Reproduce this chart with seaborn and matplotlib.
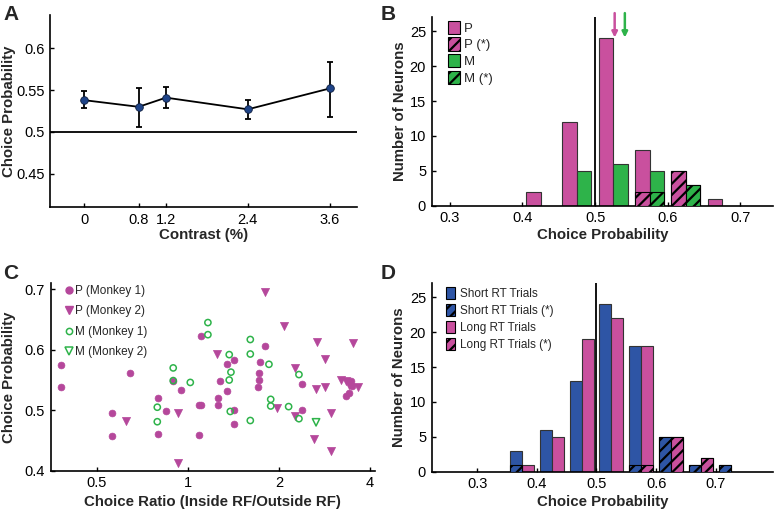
import numpy as np
import matplotlib
matplotlib.use('Agg')
import matplotlib.pyplot as plt
import seaborn as sns
from matplotlib.patches import Patch
from matplotlib.lines import Line2D

sns.set_theme(style='ticks')
plt.rcParams['font.family'] = ['Liberation Sans', 'DejaVu Sans']
plt.rcParams['xtick.direction'] = 'in'
plt.rcParams['ytick.direction'] = 'in'
plt.rcParams['hatch.linewidth'] = 1.6

# ---- data ----
# A: choice probability vs contrast
contrast = [0, 0.8, 1.2, 2.4, 3.6]
cp_mean = [0.538, 0.530, 0.541, 0.527, 0.552]
cp_low = [0.528, 0.506, 0.529, 0.515, 0.518]
cp_high = [0.549, 0.553, 0.554, 0.538, 0.584]

# B: CP histogram, P vs M cells
bins_b = [0.425, 0.475, 0.525, 0.575, 0.625, 0.675]
p_counts = [2, 12, 24, 8, 5, 1]
p_sig = [0, 0, 0, 2, 5, 0]
m_counts = [0, 5, 6, 5, 3, 0]
m_sig = [0, 0, 0, 2, 3, 0]
p_mean = 0.527
m_mean = 0.541

# C: choice ratio vs choice probability
p1_x = [0.381, 0.381, 0.562, 0.562, 0.643, 0.796, 0.796, 0.848, 0.892, 0.946,
        1.087, 1.107, 1.087, 1.104, 1.253, 1.253, 1.279, 1.346, 1.346, 1.419,
        1.419, 1.415, 1.703, 1.716, 1.716, 1.725, 1.792, 2.381, 2.381, 3.336,
        3.396, 3.465, 3.483]
p1_y = [0.575, 0.539, 0.496, 0.457, 0.562, 0.520, 0.461, 0.498, 0.549, 0.534,
        0.508, 0.508, 0.459, 0.622, 0.520, 0.508, 0.548, 0.531, 0.576, 0.583,
        0.500, 0.477, 0.539, 0.550, 0.561, 0.579, 0.607, 0.543, 0.500, 0.524,
        0.528, 0.548, 0.540]
p2_x = [0.622, 0.927, 0.927, 1.247, 1.792, 2.071, 1.968, 2.263, 2.263, 2.601,
        2.641, 2.675, 2.829, 2.829, 2.961, 2.961, 3.211, 3.319, 3.396, 3.509,
        3.646]
p2_y = [0.483, 0.495, 0.412, 0.593, 0.695, 0.640, 0.503, 0.570, 0.490, 0.453,
        0.535, 0.613, 0.585, 0.539, 0.495, 0.433, 0.550, 0.549, 0.541, 0.612,
        0.538]
m1_x = [0.792, 0.792, 0.894, 0.894, 1.018, 1.164, 1.164, 1.369, 1.387, 1.369,
        1.380, 1.607, 1.607, 1.607, 1.852, 1.877, 1.877, 2.151, 2.327, 2.327]
m1_y = [0.505, 0.481, 0.570, 0.549, 0.546, 0.645, 0.625, 0.592, 0.563, 0.550,
        0.498, 0.617, 0.593, 0.483, 0.576, 0.518, 0.507, 0.506, 0.559, 0.486]
m2_x = [2.65]
m2_y = [0.480]

# D: CP histogram, short vs long RT trials
bins_d = [0.375, 0.425, 0.475, 0.525, 0.575, 0.625, 0.675, 0.725]
short_counts = [3, 6, 13, 24, 18, 5, 1, 1]
short_sig = [1, 0, 0, 0, 1, 5, 1, 1]
long_counts = [1, 5, 19, 22, 18, 5, 2, 0]
long_sig = [0, 0, 0, 0, 1, 5, 2, 0]

# colours
magenta = '#c9509e'
green = '#2eb34a'
blue = '#2e55a5'
magenta_c = '#b5479b'
edge = '#333333'

fig = plt.figure(figsize=(7.74, 5.12), dpi=100)

tick_fs = 10.5
label_fs = 10.8


def style_axes(ax, xlab_y, ylab_x):
    sns.despine(ax=ax)
    for s in ['left', 'bottom']:
        ax.spines[s].set_linewidth(1.2)
        ax.spines[s].set_color('black')
    ax.tick_params(labelsize=tick_fs, length=3, width=1, colors='black', pad=4)
    ax.xaxis.set_label_coords(0.5, xlab_y)
    ax.yaxis.set_label_coords(ylab_x, 0.5)
    ax.xaxis.label.set_va('center')
    ax.yaxis.label.set_va('center')


def hist_bars(ax, centers, counts, sig, offset, color):
    centers = np.asarray(centers)
    counts = np.asarray(counts)
    sig = np.asarray(sig)
    keep = counts > 0
    ax.bar(centers[keep] + offset, counts[keep], width=0.02, color=color,
           edgecolor=edge, linewidth=0.8, zorder=2)
    keep = sig > 0
    ax.bar(centers[keep] + offset, sig[keep], width=0.02, color=color,
           edgecolor='black', linewidth=0.8, hatch='///', zorder=3)


# ---------- A ----------
axA = fig.add_axes([0.0646, 0.5957, 0.3966, 0.375])
axA.axhline(0.5, color='black', lw=1.3, zorder=1)
cp_mean_arr = np.array(cp_mean)
yerr = [cp_mean_arr - np.array(cp_low), np.array(cp_high) - cp_mean_arr]
axA.errorbar(contrast, cp_mean, yerr=yerr, fmt='none', ecolor='black',
             elinewidth=1.3, capsize=2.5, capthick=1.3, zorder=2)
sns.lineplot(x=contrast, y=cp_mean, ax=axA, color='black', lw=1.3,
             marker='o', markersize=5.5, markerfacecolor='#1f4488',
             markeredgecolor='#0d1d3d', markeredgewidth=0.6, zorder=3)
axA.set_xlim(-0.5, 4.0)
axA.set_ylim(0.41, 0.64)
axA.set_xticks(contrast)
axA.set_xticklabels(['0', '0.8', '1.2', '2.4', '3.6'])
axA.set_yticks([0.45, 0.5, 0.55, 0.6])
axA.set_yticklabels(['0.45', '0.5', '0.55', '0.6'])
axA.set_xlabel('Contrast (%)', fontsize=label_fs, fontweight='bold')
axA.set_ylabel('Choice Probability', fontsize=label_fs, fontweight='bold')
style_axes(axA, -0.146, -0.134)

# ---------- B ----------
axB = fig.add_axes([0.5577, 0.5982, 0.441, 0.368])
axB.axvline(0.5, color='black', lw=1.3, zorder=1)
hist_bars(axB, bins_b, p_counts, p_sig, -0.01, magenta)
hist_bars(axB, bins_b, m_counts, m_sig, 0.01, green)
axB.set_xlim(0.275, 0.745)
axB.set_ylim(0, 27)
axB.set_xticks([0.3, 0.4, 0.5, 0.6, 0.7])
axB.set_xticklabels(['0.3', '0.4', '0.5', '0.6', '0.7'])
axB.set_yticks([0, 5, 10, 15, 20, 25])
for xm, c in [(p_mean, magenta), (m_mean, green)]:
    axB.annotate('', xy=(xm, 24.1), xytext=(xm, 27.6),
                 arrowprops=dict(arrowstyle='-|>', color=c, lw=1.8,
                                 mutation_scale=8, shrinkA=0, shrinkB=0),
                 annotation_clip=False)
axB.set_xlabel('Choice Probability', fontsize=label_fs, fontweight='bold')
axB.set_ylabel('Number of Neurons', fontsize=label_fs, fontweight='bold')
style_axes(axB, -0.154, -0.094)
hB = [Patch(facecolor=magenta, edgecolor='black', linewidth=0.8, label='P'),
      Patch(facecolor=magenta, edgecolor='black', linewidth=0.8, hatch='///', label='P (*)'),
      Patch(facecolor=green, edgecolor='black', linewidth=0.8, label='M'),
      Patch(facecolor=green, edgecolor='black', linewidth=0.8, hatch='///', label='M (*)')]
axB.legend(handles=hB, loc='upper left', bbox_to_anchor=(0.025, 1.025), frameon=False,
           fontsize=9.5, handlelength=0.9, handleheight=1.15, handletextpad=0.3,
           labelspacing=0.22, borderaxespad=0.2)

# ---------- C ----------
axC = fig.add_axes([0.0655, 0.0807, 0.419, 0.366])
sns.scatterplot(x=p1_x, y=p1_y, ax=axC, marker='o', s=24, color=magenta_c,
                edgecolor=magenta_c, linewidth=0.5, zorder=2)
sns.scatterplot(x=p2_x, y=p2_y, ax=axC, marker='v', s=34, color=magenta_c,
                edgecolor=magenta_c, linewidth=0.5, zorder=2)
sns.scatterplot(x=m1_x, y=m1_y, ax=axC, marker='o', s=20, color=green,
                facecolor='none', edgecolor=green, linewidth=1.1, zorder=3)
sns.scatterplot(x=m2_x, y=m2_y, ax=axC, marker='v', s=28, color=green,
                facecolor='none', edgecolor=green, linewidth=1.1, zorder=3)
axC.set_xscale('log')
axC.set_xlim(0.352, 4.15)
axC.set_ylim(0.4, 0.71)
axC.set_xticks([0.5, 1, 2, 4])
axC.set_xticklabels(['0.5', '1', '2', '4'])
axC.minorticks_off()
axC.set_yticks([0.4, 0.5, 0.6, 0.7])
axC.set_yticklabels(['0.4', '0.5', '0.6', '0.7'])
axC.set_xlabel('Choice Ratio (Inside RF/Outside RF)', fontsize=label_fs,
               fontweight='bold')
axC.set_ylabel('Choice Probability', fontsize=label_fs, fontweight='bold')
style_axes(axC, -0.165, -0.129)
hC = [Line2D([], [], ls='none', marker='o', ms=5, color=magenta_c, label='P (Monkey 1)'),
      Line2D([], [], ls='none', marker='v', ms=6, color=magenta_c, label='P (Monkey 2)'),
      Line2D([], [], ls='none', marker='o', ms=4.5, mfc='none', mec=green, mew=1.1,
             label='M (Monkey 1)'),
      Line2D([], [], ls='none', marker='v', ms=5.5, mfc='none', mec=green, mew=1.1,
             label='M (Monkey 2)')]
axC.legend(handles=hC, loc='upper left', bbox_to_anchor=(0.02, 1.03), frameon=False,
           fontsize=8.5, handlelength=0.8, handletextpad=0.1, labelspacing=0.72,
           borderaxespad=0.2)

# ---------- D ----------
axD = fig.add_axes([0.5577, 0.0787, 0.441, 0.368])
axD.axvline(0.5, color='black', lw=1.3, zorder=1)
hist_bars(axD, bins_d, short_counts, short_sig, -0.01, blue)
hist_bars(axD, bins_d, long_counts, long_sig, 0.01, magenta)
axD.set_xlim(0.2236, 0.796)
axD.set_ylim(0, 27)
axD.set_xticks([0.3, 0.4, 0.5, 0.6, 0.7])
axD.set_xticklabels(['0.3', '0.4', '0.5', '0.6', '0.7'])
axD.set_yticks([0, 5, 10, 15, 20, 25])
axD.set_xlabel('Choice Probability', fontsize=label_fs, fontweight='bold')
axD.set_ylabel('Number of Neurons', fontsize=label_fs, fontweight='bold')
style_axes(axD, -0.163, -0.095)
hD = [Patch(facecolor=blue, edgecolor='black', linewidth=0.8, label='Short RT Trials'),
      Patch(facecolor=blue, edgecolor='black', linewidth=0.8, hatch='///',
            label='Short RT Trials (*)'),
      Patch(facecolor=magenta, edgecolor='black', linewidth=0.8, label='Long RT Trials'),
      Patch(facecolor=magenta, edgecolor='black', linewidth=0.8, hatch='///',
            label='Long RT Trials (*)')]
axD.legend(handles=hD, loc='upper left', bbox_to_anchor=(0.02, 1.02), frameon=False,
           fontsize=8.5, handlelength=0.8, handleheight=1.2, handletextpad=0.4,
           labelspacing=0.35, borderaxespad=0.2)

# panel letters
for lbl, (x, y) in {'A': (0.004, 0.99), 'B': (0.492, 0.99),
                    'C': (0.004, 0.485), 'D': (0.492, 0.485)}.items():
    fig.text(x, y, lbl, fontsize=15, fontweight='bold', va='top', ha='left')

fig.savefig('out.png', dpi=100)
